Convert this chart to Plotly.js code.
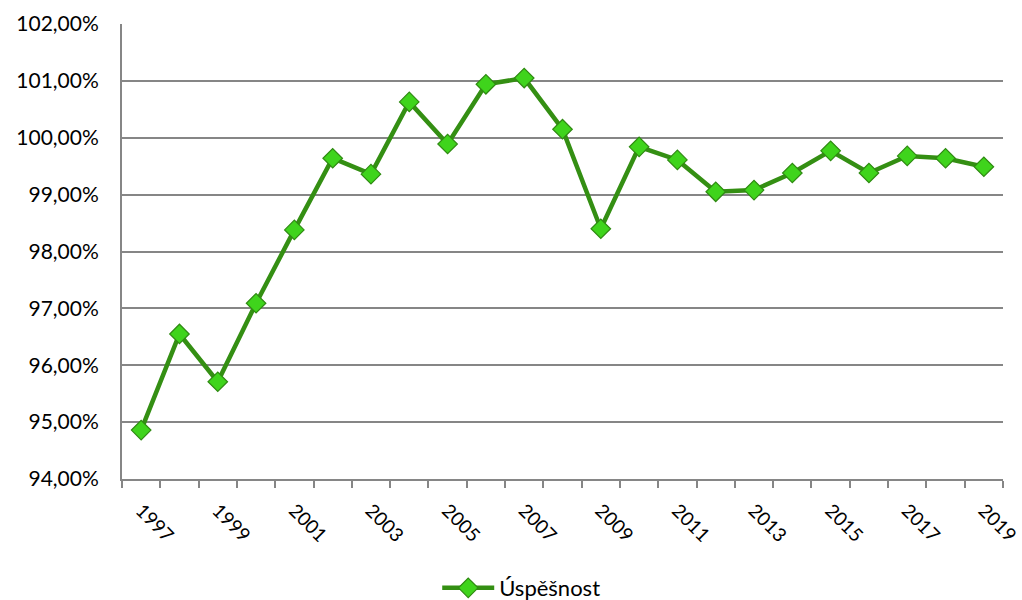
<!DOCTYPE html>
<html><head><meta charset="utf-8">
<script src="https://cdn.plot.ly/plotly-3.0.1.min.js"></script>
<style>html,body{margin:0;padding:0;background:#fff}#chart{width:1022px;height:600px}</style>
</head><body><div id="chart"></div>
<script>
const years = [1997,1998,1999,2000,2001,2002,2003,2004,2005,2006,2007,2008,2009,2010,2011,2012,2013,2014,2015,2016,2017,2018,2019];
const uspesnost = [94.86,96.55,95.71,97.09,98.38,99.64,99.36,100.63,99.89,100.94,101.05,100.15,98.40,99.84,99.61,99.05,99.08,99.38,99.77,99.38,99.68,99.64,99.49];
const labelYears = [1997,1999,2001,2003,2005,2007,2009,2011,2013,2015,2017,2019];
const yTicks = [94,95,96,97,98,99,100,101,102];
const yTickLabels = ['94,00%','95,00%','96,00%','97,00%','98,00%','99,00%','100,00%','101,00%','102,00%'];
const seriesName = 'Úspěšnost';

const font = {family: 'Lato, "Open Sans", sans-serif', size: 21, color: '#000'};
const xfont = {family: 'Lato, "Open Sans", sans-serif', size: 19, color: '#000'};
const lfont = {family: 'Lato, "Open Sans", sans-serif', size: 22, color: '#000'};
const trace = {
  x: years, y: uspesnost, name: seriesName, type: 'scatter', mode: 'lines+markers',
  line: {color: '#348f13', width: 4.5},
  marker: {symbol: 'diamond', size: 15, color: '#3fd41c', line: {color: '#2f8a12', width: 1.2}},
  showlegend: true
};
const layout = {
  width: 1022, height: 600,
  margin: {l: 122, r: 19, t: 24, b: 121},
  paper_bgcolor: '#fff', plot_bgcolor: '#fff',
  font: font,
  showlegend: true,
  legend: {orientation: 'h', xref: 'container', yref: 'container', x: 0.51, xanchor: 'center', y: 0.02, yanchor: 'middle', font: lfont, itemwidth: 52},
  xaxis: {
    type: 'linear', range: [1996.5, 2019.5], automargin: false,
    tickvals: labelYears, ticktext: labelYears.map(String), ticklabeloverflow: 'allow',
    tickangle: 45, ticks: '', showgrid: false, zeroline: false, ticklabelstandoff: 11,
    showline: true, linecolor: '#868686', linewidth: 2,
    minor: {tick0: 1996.5, dtick: 1, ticks: 'outside', ticklen: 7, tickcolor: '#868686', tickwidth: 2, showgrid: false},
    tickfont: xfont
  },
  yaxis: {
    range: [94, 102], tickvals: yTicks, ticktext: yTickLabels, automargin: false,
    showgrid: true, gridcolor: '#868686', gridwidth: 2, zeroline: false, ticklabelstandoff: 17,
    showline: true, linecolor: '#868686', linewidth: 2, ticks: '',
    tickfont: font
  }
};
Plotly.newPlot('chart', [trace], layout, {displayModeBar: false});
</script></body></html>
